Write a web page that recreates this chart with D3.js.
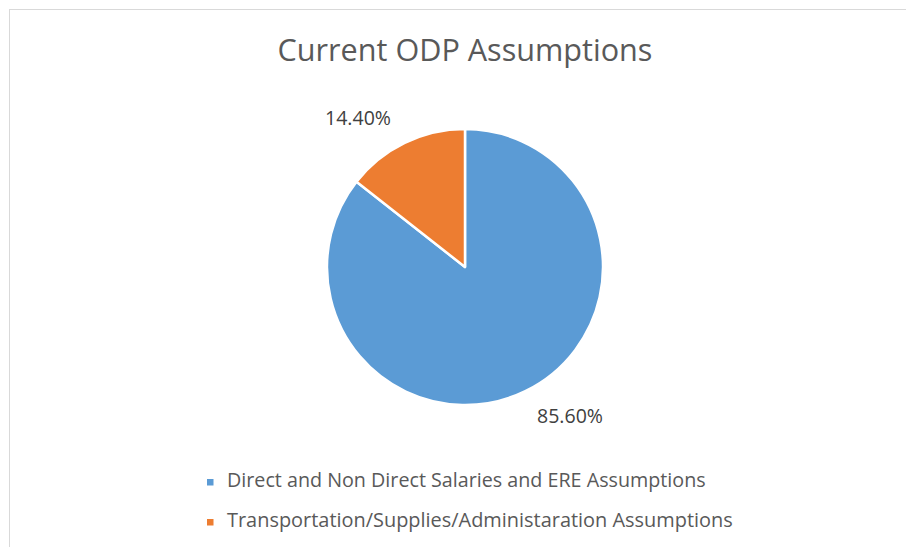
<!DOCTYPE html>
<html>
<head>
<meta charset="utf-8">
<script src="https://cdn.jsdelivr.net/npm/d3@7"></script>
<style>
  html, body { margin: 0; padding: 0; background: #fff; }
  svg { display: block; }
  text { font-family: "Open Sans", "Noto Sans", sans-serif; }
</style>
</head>
<body>
<svg id="chart" width="906" height="547"></svg>
<script>
const title = "Current ODP Assumptions";
const categories = [
  "Direct and Non Direct Salaries and ERE Assumptions",
  "Transportation/Supplies/Administaration Assumptions"
];
const values = [85.60, 14.40];
const labels = ["85.60%", "14.40%"];
const colors = ["#5B9BD5", "#ED7D31"];

const svg = d3.select("#chart");
const W = 906, H = 547;

svg.append("rect").attr("x", 0).attr("y", 0).attr("width", W).attr("height", H).attr("fill", "#fff");
svg.append("rect").attr("x", 9.5).attr("y", 9.5).attr("width", 900).attr("height", 540)
  .attr("fill", "#fff").attr("stroke", "#d9d9d9").attr("stroke-width", 1);

function fit(sel, targetWidth, baseSize) {
  sel.style("font-size", baseSize + "px");
  const w = sel.node().getComputedTextLength();
  sel.style("font-size", (baseSize * targetWidth / w) + "px");
}

// Title
const t = svg.append("text").attr("x", 465).attr("y", 61).attr("text-anchor", "middle")
  .attr("fill", "#595959").text(title);
fit(t, 375, 28);

// Pie
const cx = 465, cy = 267, r = 138;
const pie = d3.pie().sort(null).value(d => d)(values);
const arc = d3.arc().innerRadius(0).outerRadius(r);
const g = svg.append("g").attr("transform", `translate(${cx},${cy})`);
g.selectAll("path").data(pie).join("path")
  .attr("d", arc)
  .attr("fill", (d, i) => colors[i])
  .attr("stroke", "#fff").attr("stroke-width", 2.5).attr("stroke-linejoin", "round");

// Data labels
const labelPos = [[570, 423], [358, 125]];
labels.forEach((lab, i) => {
  const tx = svg.append("text").attr("x", labelPos[i][0]).attr("y", labelPos[i][1])
    .attr("text-anchor", "middle").attr("fill", "#404040").text(lab);
  fit(tx, 66, 18);
});

// Legend
const legendY = [487, 527];
categories.forEach((c, i) => {
  svg.append("rect").attr("x", 207).attr("y", legendY[i] - 8).attr("width", 6.5).attr("height", 6.5)
    .attr("fill", colors[i]);
  const tx = svg.append("text").attr("x", 227).attr("y", legendY[i]).attr("fill", "#595959").text(c);
  fit(tx, i === 0 ? 479 : 506, 16);
});
</script>
</body>
</html>
